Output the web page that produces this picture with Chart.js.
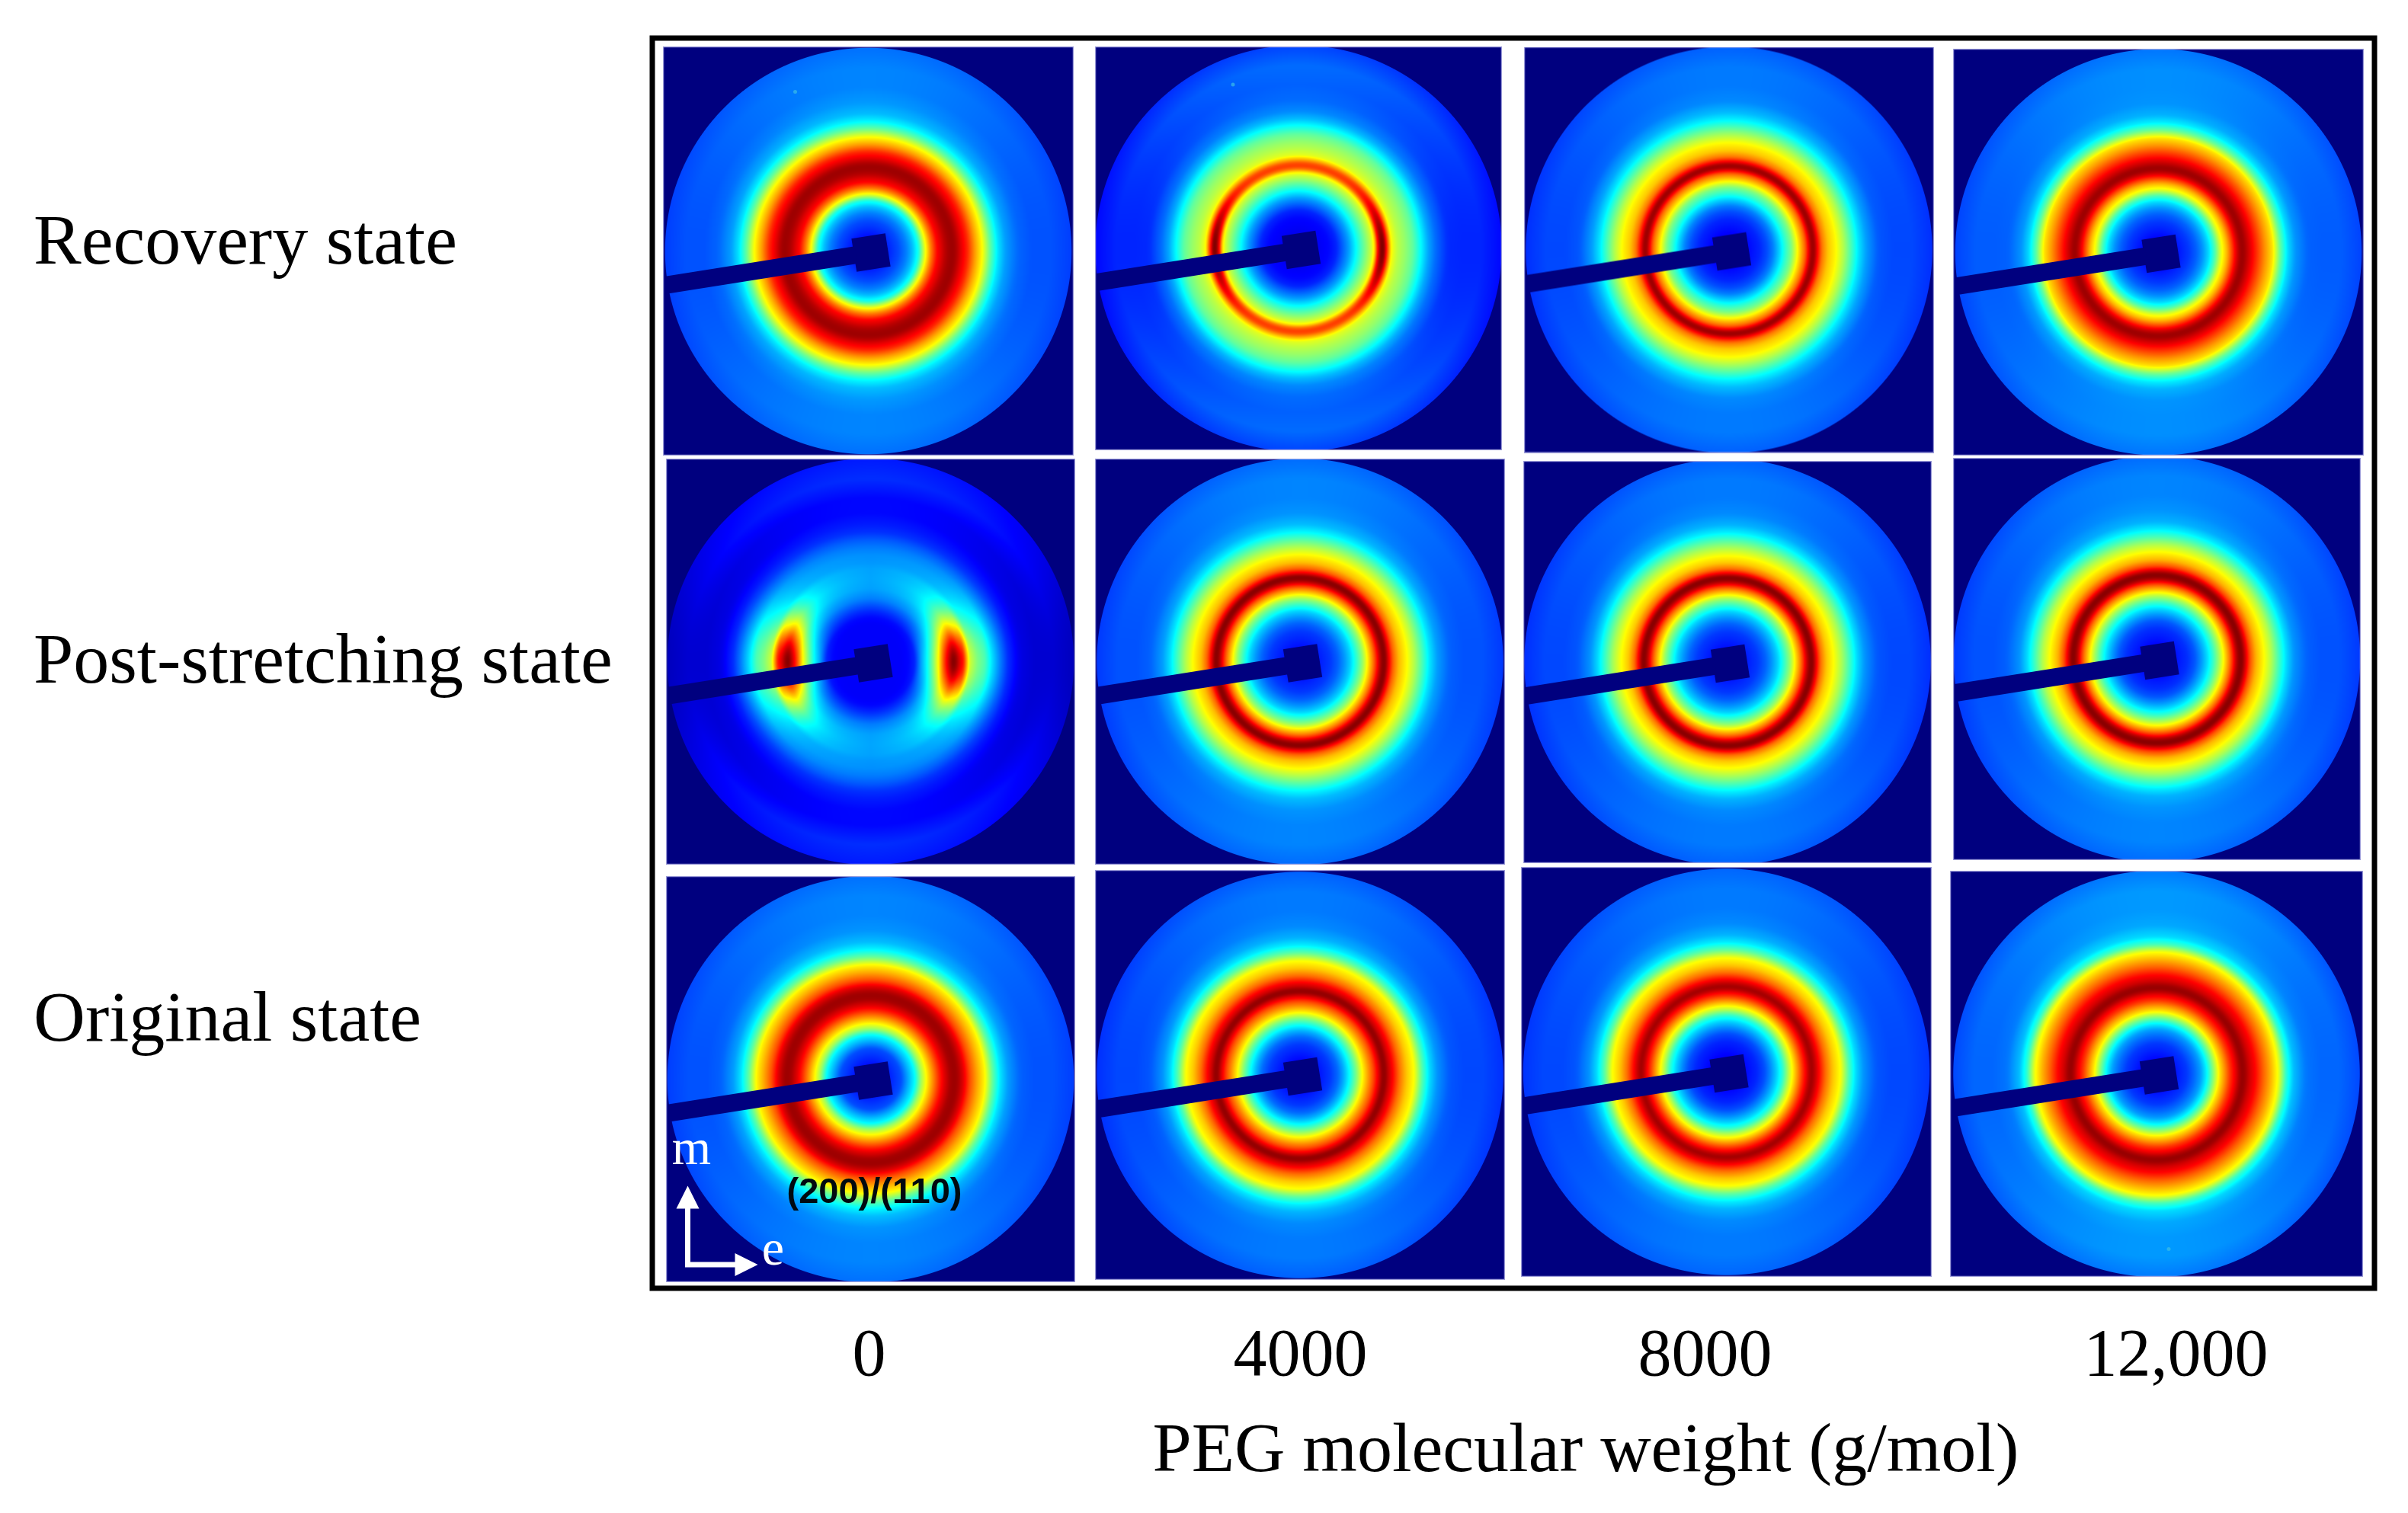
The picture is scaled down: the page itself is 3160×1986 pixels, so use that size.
<!DOCTYPE html>
<html>
<head>
<meta charset="utf-8">
<title>WAXS patterns vs PEG molecular weight</title>
<script src="https://cdn.jsdelivr.net/npm/chart.js@4"></script>
<style>
    html, body { margin: 0; padding: 0; background: #fff; }
    canvas { display: block; }
</style>
</head>
<body>
<canvas id="waxsChart" width="3160" height="1986"></canvas>
<script>
// Categories and axis labels
const pegWeights = [0, 4000, 8000, 12000];
const pegLabels = ['0', '4000', '8000', '12,000'];
const states = ['Original state', 'Post-stretching state', 'Recovery state'];
const axisTitle = 'PEG molecular weight (g/mol)';

// Radius on the detector where each intensity below was read
const radiusNodes = [0, 20, 40, 50, 58, 66, 74, 82, 90, 96, 100, 104, 108, 112, 116, 122, 130, 140, 150, 160, 170, 180, 195, 215, 240, 267];

// Intensity (0-1, jet colour scale) read along the vertical of each pattern
const recovery0 = [.13, .14, .2, .25, .31, .4, .6, .75, .87, .91, .94, .96, .97, .97, .95, .9, .84, .72, .62, .48, .37, .31, .275, .255, .255, .235];
const recovery4000 = [.11, .11, .13, .16, .22, .28, .36, .44, .52, .58, .64, .76, .82, .8, .72, .6, .56, .52, .47, .39, .31, .26, .23, .22, .23, .19];
const recovery8000 = [.12, .12, .16, .2, .25, .33, .42, .5, .63, .72, .78, .88, .97, .97, .88, .76, .68, .63, .55, .46, .37, .31, .26, .245, .245, .22];
const recovery12000 = [.12, .13, .18, .22, .27, .34, .45, .6, .7, .8, .87, .93, .97, .97, .94, .89, .82, .73, .65, .48, .36, .3, .27, .265, .265, .24];
const post0 = [.12, .12, .12, .12, .13, .16, .2, .24, .26, .27, .27, .27, .27, .27, .27, .27, .265, .26, .24, .21, .17, .15, .13, .13, .17, .15];
const post4000 = [.13, .14, .18, .22, .27, .33, .42, .52, .66, .76, .84, .93, .99, .99, .9, .78, .69, .63, .55, .46, .37, .31, .27, .255, .255, .23];
const post8000 = [.13, .14, .18, .22, .27, .33, .42, .52, .66, .76, .84, .93, .99, .99, .9, .77, .68, .62, .54, .45, .36, .3, .26, .245, .245, .22];
const post12000 = [.12, .13, .17, .21, .27, .34, .43, .54, .67, .77, .85, .94, .99, .99, .92, .8, .7, .63, .55, .45, .36, .3, .27, .255, .255, .23];
const original0 = [.12, .14, .2, .3, .375, .53, .64, .74, .84, .9, .93, .96, .97, .97, .95, .9, .8, .71, .63, .48, .37, .31, .27, .255, .255, .235];
const original4000 = [.12, .13, .18, .23, .3, .39, .5, .63, .73, .8, .86, .92, .98, .98, .93, .87, .77, .68, .62, .47, .36, .3, .26, .245, .245, .22];
const original8000 = [.11, .12, .16, .2, .26, .33, .42, .56, .68, .77, .83, .88, .94, .97, .94, .87, .77, .68, .62, .47, .36, .3, .26, .245, .245, .225];
const original12000 = [.12, .13, .18, .23, .28, .37, .5, .64, .74, .82, .86, .9, .95, .98, .97, .92, .87, .78, .7, .62, .44, .34, .29, .275, .275, .245];

// Patterns that change around the ring: intensity read along the horizontal
const recovery4000Equator = [.11, .11, .13, .16, .22, .28, .36, .44, .52, .58, .66, .88, 1, 1, .84, .62, .56, .52, .47, .39, .31, .26, .215, .21, .21, .18];
const post0Equator = [.12, .12, .12, .13, .16, .28, .375, .5, .65, .8, .88, .95, 1, .98, .92, .85, .58, .5, .45, .35, .27, .2, .15, .13, .13, .11];

const patterns = [
    [original0, original4000, original8000, original12000],
    [post0, post4000, post8000, post12000],
    [recovery0, recovery4000, recovery8000, recovery12000]
];

// Layout of the figure (the pasted images are not quite on a grid)
const FRAME = { left: 856, right: 3116, top: 50, bottom: 1691 };
const X_RANGE = [-2000, 14000];
const Y_RANGE = [-0.5, 2.5];
const PX_PER_WEIGHT = (FRAME.right - FRAME.left) / (X_RANGE[1] - X_RANGE[0]);
const PX_PER_ROW = (FRAME.bottom - FRAME.top) / (Y_RANGE[1] - Y_RANGE[0]);
const panelNudgeX = [[4, 2.5, -3, -3.5], [4, 2.5, -1.5, -3], [1, 0.5, 0.5, -1]];
const panelNudgeY = [[-1, -6.5, -10.5, -8], [-2, -2, -1.5, -5.5], [6, 2.5, 4.5, 7.5]];
const panelWidth = [[537, 538, 539, 542], [537, 538, 536, 535], [539, 534, 538, 539]];
const panelHeight = [[533, 538, 538, 533], [533, 533, 528, 528], [537, 530, 533, 534]];
const xTickNudge = [2, 3, -31, 22];
const yTickNudge = [-76.5, 0.5, -2.5];
const DETECTOR_RADIUS = 266.5;
const NAVY = [0, 0, 127];

const hotPixels = [
    { row: 2, col: 0, dx: -96, dy: -209 },
    { row: 2, col: 1, dx: -86, dy: -215 },
    { row: 0, col: 3, dx: 16, dy: 230 }
];

function jet(v) {
    const c = t => Math.round(255 * Math.min(1, Math.max(0, 1.5 - Math.abs(4 * v - t))));
    return [c(3), c(2), c(1)];
}

// 1px lookup of an intensity series, lightly smoothed like the blurred scan
function radialLookup(series) {
    const raw = [];
    let k = 0;
    for (let r = 0; r <= 300; r++) {
        while (k < radiusNodes.length - 2 && r > radiusNodes[k + 1]) k++;
        const t = Math.min(1, (r - radiusNodes[k]) / (radiusNodes[k + 1] - radiusNodes[k]));
        raw.push(series[k] + (series[k + 1] - series[k]) * t);
    }
    const at = i => raw[Math.max(0, Math.min(raw.length - 1, i))];
    return raw.map((_, i) => (at(i - 2) + 2 * at(i - 1) + 3 * at(i) + 2 * at(i + 1) + at(i + 2)) / 9);
}

function equatorWeight(series, angle) {
    const phi = Math.abs(Math.atan2(Math.abs(Math.sin(angle)), Math.abs(Math.cos(angle))));
    if (series === post0Equator) {
        return 0.84 * Math.exp(-0.5 * (phi / 0.36) ** 2) + 0.16 * Math.exp(-0.5 * (phi / 0.8) ** 2);
    }
    return Math.cos(phi) ** 6;
}

// Paints one detector image; scatter points then use it as their pointStyle
function renderPattern(row, col) {
    const w = panelWidth[row][col], h = panelHeight[row][col];
    const canvas = document.createElement('canvas');
    canvas.width = w;
    canvas.height = h;
    const ctx = canvas.getContext('2d');
    const image = ctx.createImageData(w, h);

    const meridian = radialLookup(patterns[row][col]);
    let equatorSeries = null;
    if (patterns[row][col] === recovery4000) equatorSeries = recovery4000Equator;
    if (patterns[row][col] === post0) equatorSeries = post0Equator;
    const equator = equatorSeries ? radialLookup(equatorSeries) : null;

    const cx = w / 2, cy = h / 2;
    for (let y = 0; y < h; y++) {
        for (let x = 0; x < w; x++) {
            const dx = x + 0.5 - cx, dy = y + 0.5 - cy;
            const r = Math.hypot(dx, dy);
            const i0 = Math.floor(r), t = r - i0;
            let v = meridian[Math.min(i0, 299)] * (1 - t) + meridian[Math.min(i0 + 1, 300)] * t;
            const angle = Math.atan2(dy, dx);
            if (equator) {
                const e = equator[Math.min(i0, 299)] * (1 - t) + equator[Math.min(i0 + 1, 300)] * t;
                v += (e - v) * equatorWeight(equatorSeries, angle);
            }
            // the outer halo falls off a little towards the left and right
            const outer = Math.min(1, Math.max(0, (r - 150) / 50));
            v -= 0.05 * outer * Math.cos(angle) ** 2;

            const rgb = jet(v);
            const cover = Math.min(1, Math.max(0, DETECTOR_RADIUS - r + 0.75));
            const p = (y * w + x) * 4;
            for (let c = 0; c < 3; c++) image.data[p + c] = rgb[c] * cover + NAVY[c] * (1 - cover);
            image.data[p + 3] = 255;
        }
    }
    ctx.putImageData(image, 0, 0);

    // beam stop and its arm
    ctx.save();
    ctx.translate(cx + 4, cy + 2);
    ctx.rotate(-9 * Math.PI / 180);
    ctx.fillStyle = 'rgb(0,0,127)';
    ctx.fillRect(-23, -22, 45, 44);
    ctx.fillRect(-320, -11.5, 300, 23);
    ctx.restore();

    hotPixels.filter(s => s.row === row && s.col === col).forEach(s => {
        ctx.fillStyle = 'rgba(60,190,230,0.7)';
        ctx.beginPath();
        ctx.arc(cx + s.dx, cy + s.dy, 2.5, 0, Math.PI * 2);
        ctx.fill();
    });

    ctx.strokeStyle = 'rgba(170,170,225,0.9)';
    ctx.lineWidth = 1.5;
    ctx.strokeRect(0.5, 0.5, w - 1, h - 1);
    return canvas;
}

const datasets = states.map((state, row) => ({
    label: state,
    data: pegWeights.map((weight, col) => ({
        x: weight + panelNudgeX[row][col] / PX_PER_WEIGHT,
        y: row - panelNudgeY[row][col] / PX_PER_ROW
    })),
    pointStyle: pegWeights.map((_, col) => renderPattern(row, col)),
    pointRadius: 10,
    clip: false
}));

// Frame round the images, and the lettering inside the bottom-left image
const figureNotes = {
    id: 'figureNotes',
    afterDatasetsDraw(chart) {
        const { ctx, chartArea, scales } = chart;
        ctx.save();
        ctx.strokeStyle = '#000';
        ctx.lineWidth = 7;
        ctx.strokeRect(chartArea.left, chartArea.top, chartArea.right - chartArea.left, chartArea.bottom - chartArea.top);

        const ox = scales.x.getPixelForValue(0) + 4;
        const oy = scales.y.getPixelForValue(0) - 1;

        ctx.textAlign = 'center';
        ctx.textBaseline = 'middle';
        ctx.fillStyle = '#000a10';
        ctx.font = 'bold 47px "Liberation Sans"';
        ctx.fillText('(200)/(110)', ox + 5, oy + 150);

        ctx.fillStyle = '#fff';
        ctx.font = '66px "Liberation Serif"';
        ctx.fillText('m', ox - 235, oy + 94);
        ctx.fillText('e', ox - 128, oy + 226);

        // strain direction arrows
        const cornerX = ox - 240, cornerY = oy + 243.5;
        ctx.strokeStyle = '#fff';
        ctx.lineWidth = 7;
        ctx.beginPath();
        ctx.moveTo(cornerX, oy + 165);
        ctx.lineTo(cornerX, cornerY);
        ctx.lineTo(ox - 175, cornerY);
        ctx.stroke();
        ctx.beginPath();
        ctx.moveTo(cornerX, oy + 140);
        ctx.lineTo(cornerX - 15, oy + 170);
        ctx.lineTo(cornerX + 15, oy + 170);
        ctx.closePath();
        ctx.moveTo(ox - 148, cornerY);
        ctx.lineTo(ox - 178, cornerY - 15);
        ctx.lineTo(ox - 178, cornerY + 15);
        ctx.closePath();
        ctx.fill();

        ctx.fillStyle = '#000';
        ctx.font = '92px "Liberation Serif"';
        ctx.fillText(axisTitle, 2081, 1907);
        ctx.restore();
    }
};

new Chart(document.getElementById('waxsChart').getContext('2d'), {
    type: 'scatter',
    data: { datasets },
    plugins: [figureNotes],
    options: {
        responsive: false,
        animation: false,
        devicePixelRatio: 1,
        events: [],
        layout: {
            autoPadding: false,
            padding: { left: 44, right: 3160 - FRAME.right, top: FRAME.top, bottom: 0 }
        },
        plugins: {
            legend: { display: false },
            tooltip: { enabled: false },
            title: { display: false }
        },
        scales: {
            x: {
                type: 'linear',
                min: X_RANGE[0],
                max: X_RANGE[1],
                grid: { display: false, drawTicks: false },
                border: { display: false },
                afterBuildTicks: scale => {
                    scale.ticks = pegWeights.map((w, i) => ({ value: w + xTickNudge[i] / PX_PER_WEIGHT }));
                },
                afterFit: scale => {
                    scale.height = 1986 - FRAME.bottom;
                    scale.paddingLeft = 0;
                    scale.paddingRight = 0;
                },
                ticks: {
                    autoSkip: false,
                    maxRotation: 0,
                    padding: 38,
                    color: '#000',
                    font: { family: '"Liberation Serif"', size: 88 },
                    callback: (value, i) => pegLabels[i]
                }
            },
            y: {
                type: 'linear',
                min: Y_RANGE[0],
                max: Y_RANGE[1],
                grid: { display: false, drawTicks: false },
                border: { display: false },
                afterBuildTicks: scale => {
                    scale.ticks = states.map((s, i) => ({ value: i - yTickNudge[i] / PX_PER_ROW }));
                },
                afterFit: scale => {
                    scale.width = FRAME.left - 44;
                    scale.paddingTop = 0;
                    scale.paddingBottom = 0;
                },
                ticks: {
                    autoSkip: false,
                    crossAlign: 'far',
                    color: '#000',
                    font: { family: '"Liberation Serif"', size: 94 },
                    callback: (value, i) => states[i]
                }
            }
        }
    }
});
</script>
</body>
</html>
